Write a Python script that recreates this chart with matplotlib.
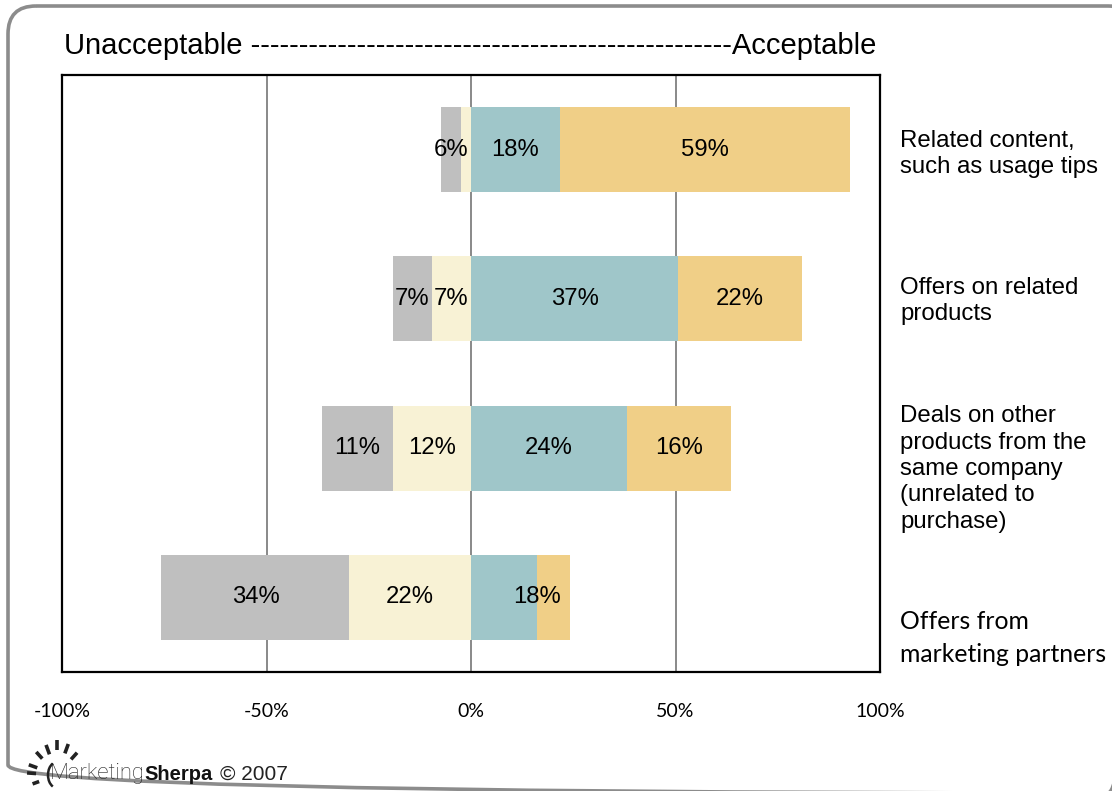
import matplotlib
matplotlib.use("Agg")
import matplotlib.pyplot as plt
from matplotlib.patches import FancyBboxPatch, Arc
import numpy as np

# Survey responses (% of all respondents) for each type of follow-up content
categories = [
    "Related content,\nsuch as usage tips",
    "Offers on related\nproducts",
    "Deals on other\nproducts from the\nsame company\n(unrelated to\npurchase)",
    "Offers from\nmarketing partners",
]
very_unacceptable = [4, 7, 11, 34]
somewhat_unacceptable = [2, 7, 12, 22]
somewhat_acceptable = [18, 37, 24, 12]
very_acceptable = [59, 22, 16, 6]

# Which segments carry a printed value; tuples are labelled with their sum
label_groups = [
    [(0, 1), (2,), (3,)],
    [(0,), (1,), (2,), (3,)],
    [(0,), (1,), (2,), (3,)],
    [(0,), (1,), (2, 3)],
]

tick_values = [-100, -50, 0, 50, 100]
tick_labels = ["-100%", "-50%", "0%", "50%", "100%"]

colors = ["#BFBFBF", "#F8F2D5", "#9FC6C9", "#F0CF87"]

W, H = 1112, 791
fig = plt.figure(figsize=(W / 100, H / 100), dpi=100)

# pixel-space overlay for frame, headings and logo
ov = fig.add_axes([0, 0, 1, 1], zorder=0)
ov.set_xlim(0, W)
ov.set_ylim(H, 0)
ov.axis("off")

border = FancyBboxPatch((8, 6), 1128, 787, boxstyle="round,pad=0,rounding_size=28",
                        fill=False, edgecolor="#8C8C8C", linewidth=2.6, clip_on=True)
ov.add_patch(border)

# main plot area
ax = fig.add_axes([62 / W, 1 - 672 / H, 818 / W, 597 / H], zorder=1)
ax.patch.set_alpha(0)

rows = np.arange(len(categories))
data = np.array([very_unacceptable, somewhat_unacceptable,
                 somewhat_acceptable, very_acceptable], dtype=float).T
totals = data.sum(axis=1)
shares = data / totals[:, None] * 100  # each bar spans the answering respondents

bar_h = 0.57
for i in rows:
    g, c, t, o = shares[i]
    segs = [(-(g + c), g), (-c, c), (0, t), (t, o)]
    for k, (left, width) in enumerate(segs):
        ax.barh(i, width, left=left, height=bar_h, color=colors[k],
                edgecolor="none", zorder=2)
    for grp in label_groups[i]:
        lo = segs[grp[0]][0]
        hi = segs[grp[-1]][0] + segs[grp[-1]][1]
        value = int(round(data[i, list(grp)].sum()))
        if len(grp) == 1:
            xpos = (lo + hi) / 2
        elif hi <= 0:
            xpos = lo + (hi - lo) / 3
        else:
            xpos = hi - (hi - lo) / 3
        ax.text(xpos, i, f"{value}%", ha="center", va="center",
                fontsize=17.2, family="Liberation Sans", color="black", zorder=3)

for xv in [-50, 0, 50]:
    ax.axvline(xv, color="#808080", linewidth=1.3, zorder=1)

ax.set_xlim(-100, 100)
ax.set_ylim(3.5, -0.5)
ax.set_yticks([])
ax.set_xticks(tick_values)
ax.set_xticklabels(tick_labels, family="Lato", fontsize=14)
ax.tick_params(axis="x", length=0, pad=22)
for s in ax.spines.values():
    s.set_linewidth(1.6)
    s.set_color("black")

# heading across the top
ov.text(64, 46, "Unacceptable " + "-" * 50 + "Acceptable", ha="left", va="center",
        fontsize=21, family="Liberation Sans", color="black")

# category names to the right of the bars
label_y = [154, 301, 469, 638]
for k, (name, y) in enumerate(zip(categories, label_y)):
    if k == len(categories) - 1:
        ov.text(900, y, name, ha="left", va="center", fontsize=17.8,
                family="Lato", linespacing=1.54, color="black")
    else:
        ov.text(900, y, name, ha="left", va="center", fontsize=17.3,
                family="Liberation Sans", linespacing=1.26, color="black")

# logo: rising sun with wordmark
cx, cy = 57, 775
rays = [(200, 19, 26), (176, 21, 30), (160, 21, 30), (132, 22, 31),
        (110, 22, 32), (90, 25, 35), (70, 23, 33), (48, 21, 30)]
for ang, r0, r1 in rays:
    a = np.deg2rad(ang)
    ov.plot([cx + r0 * np.cos(a), cx + r1 * np.cos(a)],
            [cy - r0 * np.sin(a), cy - r1 * np.sin(a)],
            color="#222222", linewidth=2.6, solid_capstyle="butt")
ov.add_patch(Arc((cx, cy), 18, 26, theta1=110, theta2=250,
                 color="#222222", linewidth=1.8))
t1 = ov.text(50, 774, "Marketing", ha="left", va="center", fontsize=15.8,
             family="Roboto", fontweight="light", color="#222222")
fig.canvas.draw()
x2 = t1.get_window_extent().x1
t2 = ov.text(x2, 774, "Sherpa", ha="left", va="center", fontsize=14.5,
             family="Liberation Sans", fontweight="bold", color="#111111")
fig.canvas.draw()
x3 = t2.get_window_extent().x1 + 7
ov.text(x3, 774, "© 2007", ha="left", va="center", fontsize=15,
        family="Liberation Sans", color="#222222")

fig.savefig("out.png", dpi=100)
